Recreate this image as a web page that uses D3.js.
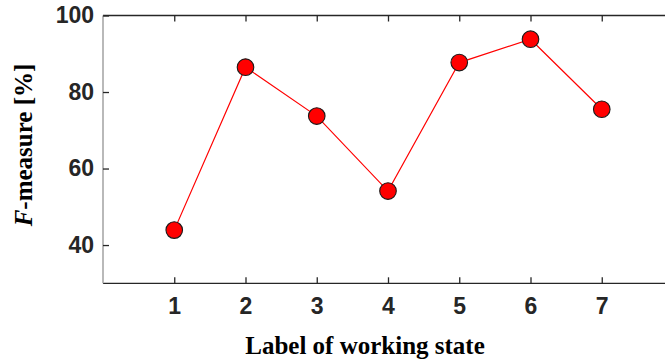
<!DOCTYPE html>
<html>
<head>
<meta charset="utf-8">
<script src="https://cdn.jsdelivr.net/npm/d3@7"></script>
<style>
  html, body { margin: 0; padding: 0; background: #fff; }
  svg { display: block; }
</style>
</head>
<body>
<svg id="chart" width="665" height="362"></svg>
<script>
// F-measure per working-state label
const states = [1, 2, 3, 4, 5, 6, 7];
const fMeasure = [43.9, 86.5, 73.7, 54.1, 87.7, 93.8, 75.5];
const yTicks = [40, 60, 80, 100];

const svg = d3.select("#chart");
const margin = { left: 103, top: 15.5, bottom: 283.3 };
const x = d3.scaleLinear().domain([0, 8]).range([103, 673]);
const y = d3.scaleLinear().domain([30, 100]).range([margin.bottom, margin.top]);

const ink = "#262626";
const tickFont = "'Liberation Sans', Arial, sans-serif";
const serif = "'Liberation Serif', 'Times New Roman', serif";

// bottom axis, ticks pointing inward
const xAxis = svg.append("g")
  .attr("transform", `translate(0,${margin.bottom})`)
  .call(d3.axisBottom(x).tickValues(states).tickSize(-6).tickPadding(14).tickFormat(d3.format("d")));
// top border with matching ticks
const xTop = svg.append("g")
  .attr("transform", `translate(0,${margin.top})`)
  .call(d3.axisTop(x).tickValues(states).tickSize(-6).tickFormat(""));
// left axis
const yAxis = svg.append("g")
  .attr("transform", `translate(${margin.left},0)`)
  .call(d3.axisLeft(y).tickValues(yTicks).tickSize(-6).tickPadding(9).tickFormat(d3.format("d")));

[xAxis, xTop, yAxis].forEach(g => {
  g.select(".domain").attr("stroke", ink).attr("stroke-width", 1.3);
  g.selectAll(".tick line").attr("stroke", ink).attr("stroke-width", 1.3);
  g.selectAll(".tick text")
    .attr("fill", ink)
    .style("font-family", tickFont)
    .style("font-weight", "bold")
    .style("font-size", "23px");
});
// the vertical axis line is drawn in a lighter grey
yAxis.select(".domain").attr("stroke", "#a8a8a8").attr("stroke-width", 1.6);
// domain paths without end caps
xAxis.select(".domain").attr("d", `M${margin.left},0H665`);
xTop.select(".domain").attr("d", `M${margin.left},0H665`);
yAxis.select(".domain").attr("d", `M0,${margin.top}V${margin.bottom}`);

// line connecting the points
const line = d3.line()
  .x((d, i) => x(states[i]))
  .y(d => y(d));
svg.append("path")
  .datum(fMeasure)
  .attr("d", line)
  .attr("fill", "none")
  .attr("stroke", "#ff0000")
  .attr("stroke-width", 1.2);

// markers
svg.selectAll("circle.pt")
  .data(fMeasure)
  .join("circle")
  .attr("class", "pt")
  .attr("cx", (d, i) => x(states[i]))
  .attr("cy", d => y(d))
  .attr("r", 8.3)
  .attr("fill", "#ff0000")
  .attr("stroke", "#1a1a1a")
  .attr("stroke-width", 1.1);

// axis titles
svg.append("text")
  .attr("x", 365)
  .attr("y", 354)
  .attr("text-anchor", "middle")
  .style("font-family", serif)
  .style("font-weight", "bold")
  .style("font-size", "25px")
  .attr("fill", "#000")
  .text("Label of working state");

const yl = svg.append("text")
  .attr("transform", "translate(32,145) rotate(-90)")
  .attr("text-anchor", "middle")
  .style("font-family", serif)
  .style("font-weight", "bold")
  .style("font-size", "25px")
  .attr("fill", "#000");
yl.append("tspan").style("font-style", "italic").text("F");
yl.append("tspan").text("-measure [%]");
</script>
</body>
</html>
